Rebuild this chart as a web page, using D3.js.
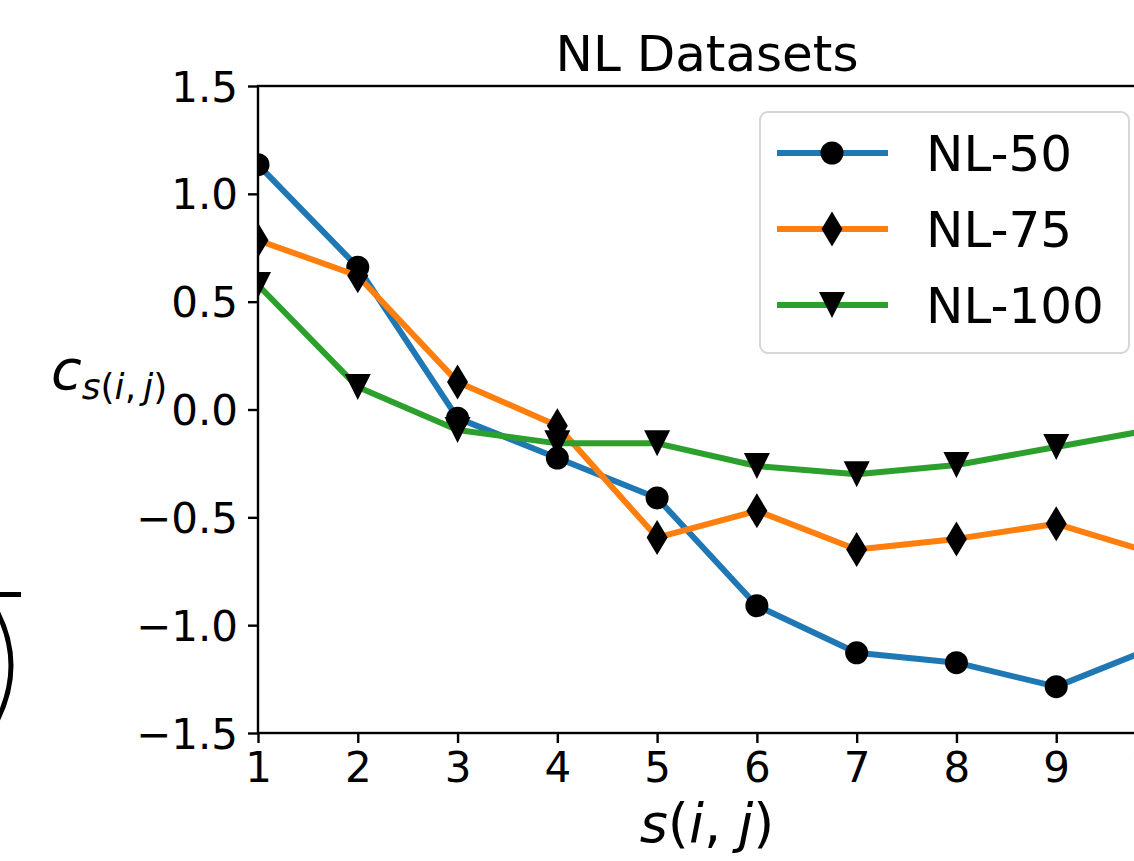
<!DOCTYPE html>
<html>
<head>
<meta charset="utf-8">
<script src="https://cdn.jsdelivr.net/npm/d3@7"></script>
<style>
  html, body { margin: 0; padding: 0; background: #fff; overflow: hidden; }
  svg { display: block; font-family: "DejaVu Sans", sans-serif; }
</style>
</head>
<body>
<div id="chart"></div>
<script>
// data
const steps = [1, 2, 3, 4, 5, 6, 7, 8, 9, 10];
const nl50 = [1.135, 0.66, -0.04, -0.225, -0.41, -0.91, -1.128, -1.174, -1.285, -1.10];
const nl75 = [0.785, 0.62, 0.128, -0.075, -0.594, -0.47, -0.649, -0.60, -0.53, -0.67];
const nl100 = [0.577, 0.104, -0.095, -0.157, -0.157, -0.262, -0.30, -0.257, -0.174, -0.09];
const seriesNames = ["NL-50", "NL-75", "NL-100"];
const yTicks = [-1.5, -1.0, -0.5, 0.0, 0.5, 1.0, 1.5];
const xTicks = [1, 2, 3, 4, 5, 6, 7, 8, 9, 10];

const series = [
    { name: seriesNames[0], values: nl50, color: "#1f77b4", marker: "circle" },
    { name: seriesNames[1], values: nl75, color: "#ff7f0e", marker: "diamond" },
    { name: seriesNames[2], values: nl100, color: "#2ca02c", marker: "tri" }
];

const W = 1134, H = 861;
const margin = { left: 258, top: 86 };
const plotW = 898, plotH = 647;

const svg = d3.select("#chart").append("svg")
    .attr("width", W).attr("height", H);

// leftover piece of the neighbouring panel (a root bar and a closing paren)
svg.append("rect").attr("x", 0).attr("y", 592).attr("width", 21).attr("height", 5).attr("fill", "#000");
svg.append("path").attr("d", "M-3,611Q25,665 -3,721")
    .attr("fill", "none").attr("stroke", "#000").attr("stroke-width", 5);

const x = d3.scaleLinear().domain([1, 10]).range([0, plotW]);
const y = d3.scaleLinear().domain([-1.5, 1.5]).range([plotH, 0]);

const g = svg.append("g").attr("transform", `translate(${margin.left},${margin.top})`);

svg.append("defs").append("clipPath").attr("id", "plot-clip")
    .append("rect").attr("width", plotW).attr("height", plotH);

// markers
function markerPath(type) {
    if (type === "circle") return d3.symbol(d3.symbolCircle, Math.PI * 11.5 * 11.5)();
    if (type === "diamond") return "M0,-17.5L10.5,0L0,17.5L-10.5,0Z";
    return "M-13,-13L13,-13L0,13Z";
}

const plot = g.append("g").attr("clip-path", "url(#plot-clip)");
const line = d3.line().x((d, i) => x(steps[i])).y(d => y(d));

series.forEach(s => {
    plot.append("path")
        .attr("d", line(s.values))
        .attr("fill", "none")
        .attr("stroke", s.color)
        .attr("stroke-width", 6)
        .attr("stroke-linejoin", "round")
        .attr("stroke-linecap", "square");
    plot.append("g").selectAll("path")
        .data(s.values)
        .enter().append("path")
        .attr("transform", (d, i) => `translate(${x(steps[i])},${y(d)})`)
        .attr("d", markerPath(s.marker))
        .attr("fill", "#000");
});

// axes
const xAxis = g.append("g").attr("transform", `translate(0,${plotH})`)
    .call(d3.axisBottom(x).tickValues(xTicks).tickSize(10).tickPadding(9).tickSizeOuter(0));
const yAxis = g.append("g")
    .call(d3.axisLeft(y).tickValues(yTicks).tickFormat(d3.format(".1f")).tickSize(10).tickPadding(10).tickSizeOuter(0));

[xAxis, yAxis].forEach(a => {
    a.select(".domain").remove();
    a.selectAll(".tick line").attr("stroke", "#000").attr("stroke-width", 2.4);
    a.selectAll(".tick text").attr("font-size", 42).attr("fill", "#000")
        .attr("font-family", "DejaVu Sans");
});
xAxis.selectAll(".tick text").attr("dy", "0.71em");
yAxis.selectAll(".tick text").attr("dy", "0.36em");

g.append("rect").attr("width", plotW).attr("height", plotH)
    .attr("fill", "none").attr("stroke", "#000").attr("stroke-width", 2.4);

// title
svg.append("text")
    .attr("x", margin.left + plotW / 2).attr("y", 71)
    .attr("text-anchor", "middle").attr("font-size", 50)
    .text("NL Datasets");

// x label s(i,j)
const xl = svg.append("text")
    .attr("x", margin.left + plotW / 2).attr("y", 842)
    .attr("text-anchor", "middle").attr("font-size", 54);
xl.append("tspan").attr("font-style", "italic").text("s");
xl.append("tspan").text("(");
xl.append("tspan").attr("font-style", "italic").text("i");
xl.append("tspan").text(", ");
xl.append("tspan").attr("font-style", "italic").text("j");
xl.append("tspan").text(")");

// y label c_{s(i,j)}
const yl = svg.append("text").attr("x", 51).attr("y", 389).attr("font-size", 56);
yl.append("tspan").attr("font-style", "italic").text("c");
const sub = yl.append("tspan").attr("font-size", 36).attr("dy", 10);
sub.append("tspan").attr("font-style", "italic").text("s");
sub.append("tspan").text("(");
sub.append("tspan").attr("font-style", "italic").text("i");
sub.append("tspan").text(",\u2009");
sub.append("tspan").attr("font-style", "italic").text("j");
sub.append("tspan").text(")");

// legend
const legend = svg.append("g").attr("transform", "translate(760,112)");
legend.append("rect").attr("width", 369).attr("height", 241).attr("rx", 8)
    .attr("fill", "#fff").attr("fill-opacity", 0.8)
    .attr("stroke", "#d6d6d6").attr("stroke-width", 2);
const rows = legend.selectAll("g.row").data(series).enter().append("g")
    .attr("transform", (d, i) => `translate(0,${41 + i * 76})`);
rows.append("line").attr("x1", 17).attr("x2", 128)
    .attr("stroke", d => d.color).attr("stroke-width", 6);
rows.append("path").attr("transform", "translate(72,0)")
    .attr("d", d => markerPath(d.marker)).attr("fill", "#000");
rows.append("text").attr("x", 166).attr("y", 18).attr("font-size", 50)
    .text(d => d.name);
</script>
</body>
</html>
